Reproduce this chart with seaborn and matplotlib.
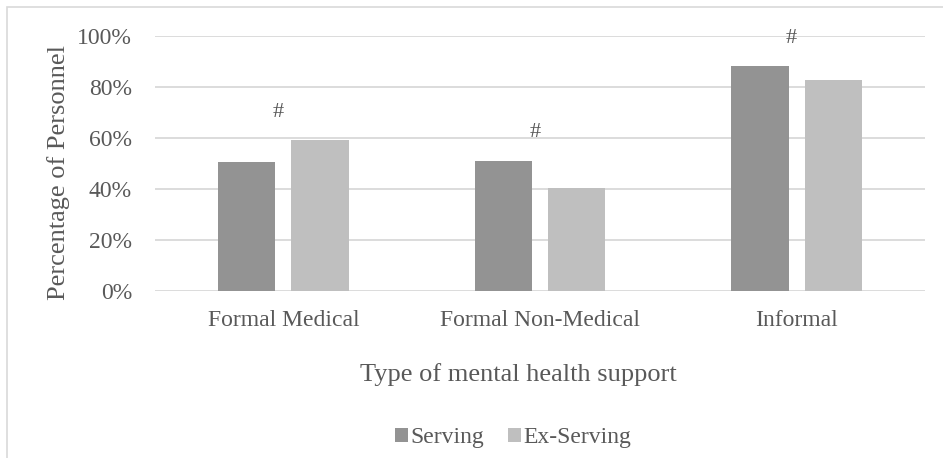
import matplotlib
matplotlib.use("Agg")
import matplotlib.pyplot as plt
import seaborn as sns
import pandas as pd
from matplotlib.patches import Rectangle

categories = ["Formal Medical", "Formal Non-Medical", "Informal"]
serving = [50.5, 51.0, 88.2]
ex_serving = [59.1, 40.3, 82.6]
groups = ["Serving", "Ex-Serving"]
sig_labels = ["#", "#", "#"]
yticks = [0, 20, 40, 60, 80, 100]
ytick_labels = ["0%", "20%", "40%", "60%", "80%", "100%"]

df = pd.DataFrame({
    "category": categories * 2,
    "group": [groups[0]] * 3 + [groups[1]] * 3,
    "value": serving + ex_serving,
})

sns.set_theme(style="white")
plt.rcParams["font.family"] = ["Liberation Serif", "DejaVu Serif"]
text_color = "#595959"
grid_color = "#d9d9d9"

fig = plt.figure(figsize=(9.43, 4.58), dpi=100)
ax = fig.add_axes([155 / 943, (458 - 291) / 458, 770 / 943, 255 / 458])

# outer frame (right/bottom lie outside the image)
fig.patches.append(Rectangle((7 / 943, -0.1), 1.2, (458 - 7) / 458 + 0.1,
                             transform=fig.transFigure, fill=False,
                             edgecolor="#d9d9d9", linewidth=1.2, zorder=0))

sns.barplot(data=df, x="category", y="value", hue="group", order=categories,
            hue_order=groups, palette=["#939393", "#bfbfbf"], width=0.571,
            gap=0.218, linewidth=0, ax=ax, zorder=3)

ax.set_ylim(0, 100)
ax.set_xlim(-0.5, 2.5)
ax.set_yticks(yticks)
ax.set_yticklabels(ytick_labels)
ax.yaxis.grid(True, color=grid_color, linewidth=1.3, zorder=0)
ax.set_axisbelow(True)
for s in ax.spines.values():
    s.set_visible(False)
ax.tick_params(axis="both", length=0, labelsize=17, colors=text_color)
ax.tick_params(axis="y", pad=16.5)
ax.tick_params(axis="x", pad=14)

for i, lab in enumerate(sig_labels):
    top = max(serving[i], ex_serving[i])
    ax.text(i - 0.02, top + 11, lab, ha="center", va="center", fontsize=16,
            color=text_color)

ax.set_xlabel("Type of mental health support", fontsize=19, color=text_color,
              va="center")
ax.xaxis.set_label_coords((518 - 155) / 770, (291 - 375) / 255)
ax.set_ylabel("Percentage of Personnel", fontsize=19, color=text_color,
              va="center")
ax.yaxis.set_label_coords((59 - 155) / 770, (291 - 172.5) / 255)

sns.move_legend(ax, "center", bbox_to_anchor=((513 - 155) / 770, (291 - 438) / 255),
                ncol=2, frameon=False, title=None, fontsize=17,
                handlelength=0.55, handleheight=0.55, handletextpad=0.1,
                columnspacing=1.0, labelcolor=text_color)

fig.savefig("out.png", dpi=100)
